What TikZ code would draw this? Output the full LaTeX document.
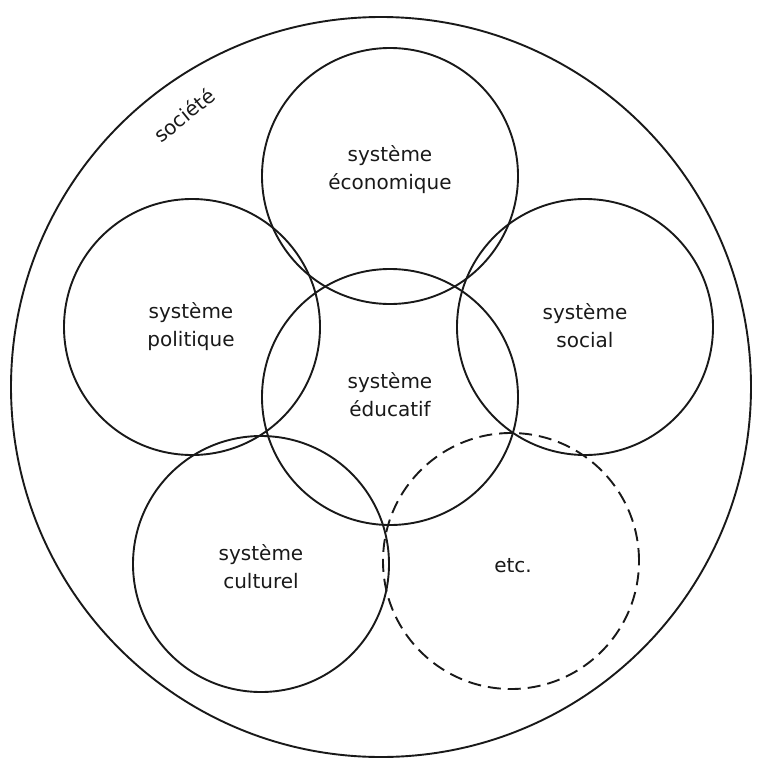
\documentclass[tikz,border=0pt]{standalone}
\usepackage{fontspec}
\setmainfont{DejaVu Sans}
\begin{document}
\begin{tikzpicture}[x=1pt,y=-1pt,
  ring/.style={draw=black!90, line width=1.9pt},
  sysring/.style={ring, circle, minimum size=256pt, inner sep=0pt},
  dashring/.style={sysring, dash pattern=on 13pt off 7pt},
  label/.style={text=black!90, font=\fontsize{20}{28}\selectfont, align=center}]
  \useasboundingbox (0,0) rectangle (759,763);
  % society: the enclosing circle
  \node[ring, circle, minimum size=740pt, inner sep=0pt] (soc) at (381,387) {};
  \node[label, rotate=39] (soclab) at (184,115) {société};
  % subsystems
  \node[sysring] (eco) at (390,176) {};
  \node[sysring] (pol) at (192,327) {};
  \node[sysring] (sol) at (585,327) {};
  \node[sysring] (edu) at (390,397) {};
  \node[sysring] (cul) at (261,564) {};
  \node[dashring] (etc) at (511,561) {};
  % labels
  \node[label] (ecolab) at (390,170) {système\\économique};
  \node[label] (pollab) at (191,327) {système\\politique};
  \node[label] (sollab) at (585,326) {système\\social};
  \node[label] (edulab) at (390,395) {système\\éducatif};
  \node[label] (cullab) at (261,567) {système\\culturel};
  \node[label] (etclab) at (513,566) {etc.};
\end{tikzpicture}
\end{document}
